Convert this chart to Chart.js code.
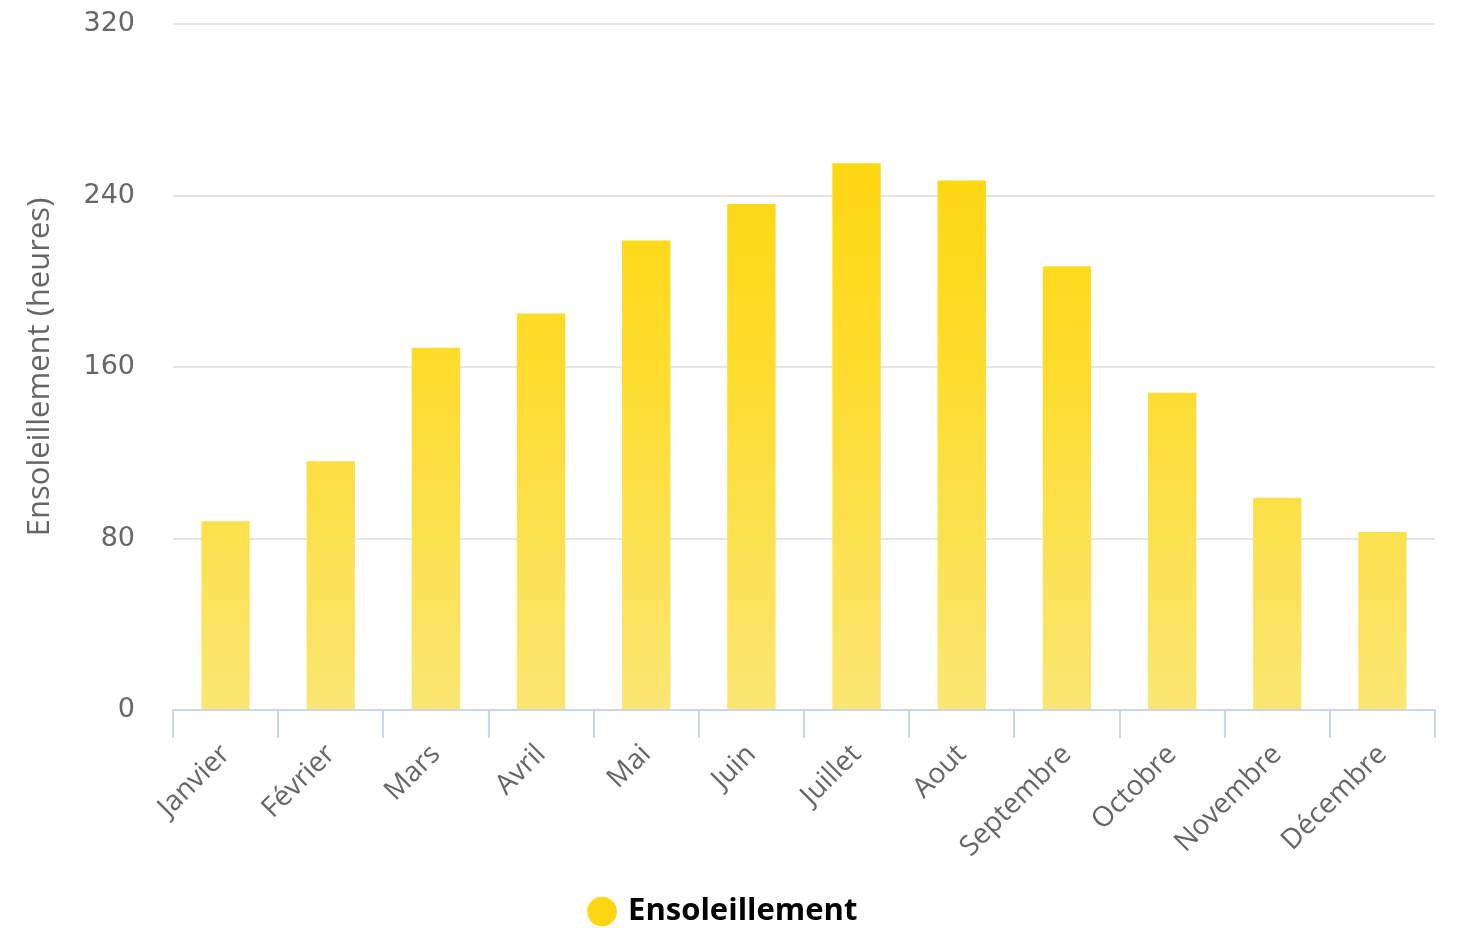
<!DOCTYPE html>
<html lang="fr">
<head>
    <meta charset="UTF-8">
    <title>Ensoleillement</title>
    <script src="https://cdn.jsdelivr.net/npm/chart.js"></script>
    <style>
        html, body { margin: 0; padding: 0; background: #fff; }
        .box { width: 1458px; height: 928px; }
    </style>
</head>
<body>
    <div class="box">
        <canvas id="sunChart" width="1458" height="928"></canvas>
    </div>

    <script>
        const months = ['Janvier', 'Février', 'Mars', 'Avril', 'Mai', 'Juin',
                        'Juillet', 'Aout', 'Septembre', 'Octobre', 'Novembre', 'Décembre'];
        const sunHours = [88, 116, 169, 185, 219, 236, 255, 247, 207, 148, 99, 83];
        const yTicks = [0, 80, 160, 240, 320];

        const seriesName = 'Ensoleillement';
        const axisTitle = 'Ensoleillement (heures)';

        // vertical gradient over the whole plot area, darker at the top
        function barGradient(context) {
            const area = context.chart.chartArea;
            if (!area) return '#ffd710';
            const g = context.chart.ctx.createLinearGradient(0, area.top, 0, area.bottom);
            g.addColorStop(0, 'rgb(255, 212, 0)');
            g.addColorStop(0.5, 'rgb(253, 220, 45)');
            g.addColorStop(1, 'rgb(251, 230, 115)');
            return g;
        }

        const ctx = document.getElementById('sunChart').getContext('2d');
        new Chart(ctx, {
            type: 'bar',
            data: {
                labels: months,
                datasets: [{
                    label: seriesName,
                    data: sunHours,
                    backgroundColor: barGradient,
                    borderWidth: 0,
                    barPercentage: 0.46,
                    categoryPercentage: 1
                }]
            },
            options: {
                responsive: false,
                animation: false,
                layout: { padding: { top: 24, right: 23, left: 14, bottom: -9 } },
                plugins: {
                    tooltip: { enabled: false },
                    legend: {
                        position: 'bottom',
                        labels: {
                            usePointStyle: true,
                            pointStyle: 'circle',
                            boxWidth: 21,
                            boxHeight: 21,
                            padding: 4,
                            color: '#333',
                            font: { family: 'Open Sans', size: 31, weight: 'bold' },
                            generateLabels: chart => [{
                                text: seriesName,
                                fillStyle: 'rgb(255, 214, 20)',
                                strokeStyle: 'rgb(255, 214, 20)',
                                lineWidth: 0,
                                pointStyle: 'circle',
                                datasetIndex: 0
                            }]
                        }
                    }
                },
                scales: {
                    x: {
                        offset: true,
                        grid: {
                            offset: true,
                            drawOnChartArea: false,
                            drawTicks: true,
                            tickLength: 28,
                            color: '#ccd6eb',
                            lineWidth: 2
                        },
                        border: { color: '#ccd6eb', width: 2 },
                        ticks: {
                            minRotation: 45,
                            maxRotation: 45,
                            padding: 0,
                            color: '#666',
                            font: { family: 'Open Sans', size: 28 }
                        },
                        afterFit: scale => { scale.height = 182; }
                    },
                    y: {
                        min: 0,
                        max: 320,
                        afterBuildTicks: scale => {
                            scale.ticks = yTicks.map(v => ({ value: v }));
                        },
                        grid: {
                            color: '#e6e6e6',
                            lineWidth: 2,
                            drawTicks: true,
                            tickLength: 38,
                            tickColor: 'rgba(0,0,0,0)'
                        },
                        border: { display: false },
                        ticks: {
                            padding: 0,
                            color: '#666',
                            font: { family: 'DejaVu Sans', size: 27 }
                        },
                        title: {
                            display: true,
                            text: axisTitle,
                            color: '#666',
                            padding: { top: 8, bottom: 0 },
                            font: { family: 'Open Sans', size: 31 }
                        },
                        afterFit: scale => { scale.width = 159; }
                    }
                }
            }
        });
    </script>
</body>
</html>
